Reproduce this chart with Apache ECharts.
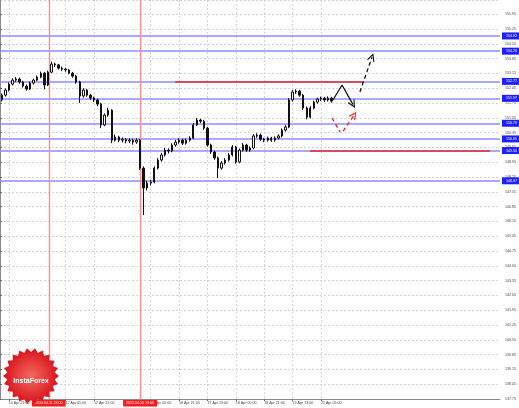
<!DOCTYPE html>
<html><head><meta charset="utf-8">
<script src="https://cdn.jsdelivr.net/npm/echarts@6/dist/echarts.min.js"></script>
<style>html,body{margin:0;padding:0;background:#fff}#c{width:519px;height:408px}</style>
</head><body><div id="c"></div>
<script>
// ---- data (price in GBP/JPY-like units, time in trading hours from 10 Apr 16:00) ----
const opens  = [151.90,152.12,152.36,152.64,152.83,152.88,152.74,152.55,152.41,152.69,152.83,152.97,153.16,152.60,153.21,153.59,153.55,153.40,153.35,153.31,153.16,153.02,152.74,152.08,152.36,152.12,151.98,151.89,151.70,150.71,151.18,151.41,149.99,150.14,149.99,150.04,149.95,149.99,149.90,149.99,148.67,147.73,147.96,148.01,148.67,149.05,149.29,149.52,149.48,149.76,149.90,149.99,149.85,149.99,150.09,150.71,150.94,150.89,150.56,149.76,149.43,149.15,148.67,148.91,149.05,149.29,149.67,148.96,149.52,149.76,149.52,149.62,150.19,150.23,150.04,149.99,150.09,149.99,150.09,150.19,150.47,150.61,151.89,152.27,152.31,152.12,151.51,151.08,151.51,151.79,151.93,151.98,151.89,151.98];
const closes = [152.12,152.36,152.64,152.83,152.88,152.74,152.55,152.41,152.69,152.83,152.97,153.16,152.60,153.21,153.59,153.55,153.40,153.35,153.31,153.16,153.02,152.74,152.08,152.36,152.12,151.98,151.89,151.70,150.71,151.18,151.41,149.99,150.14,149.99,150.04,149.95,149.99,149.90,149.99,148.67,147.73,147.96,148.01,148.67,149.05,149.29,149.52,149.48,149.76,149.90,149.99,149.85,149.99,150.09,150.71,150.94,150.89,150.56,149.76,149.43,149.15,148.67,148.91,149.05,149.29,149.67,148.96,149.52,149.76,149.52,149.62,150.19,150.23,150.04,149.99,150.09,149.99,150.09,150.19,150.47,150.61,151.89,152.27,152.31,152.12,151.51,151.08,151.51,151.79,151.93,151.98,151.89,151.98,151.84];
const lows   = [151.82,152.05,152.30,152.58,152.74,152.66,152.48,152.33,152.36,152.62,152.78,152.92,152.40,152.55,153.16,153.45,153.33,153.26,153.22,153.10,152.94,152.66,151.75,152.00,152.04,151.90,151.80,151.60,150.56,150.65,151.10,149.85,149.92,149.90,149.88,149.84,149.86,149.78,149.82,148.58,146.45,147.62,147.85,147.95,148.60,148.98,149.22,149.36,149.42,149.68,149.82,149.76,149.78,149.92,150.04,150.66,150.80,150.48,149.68,149.34,149.06,148.20,148.60,148.84,148.98,149.22,148.88,148.90,149.45,149.44,149.44,149.56,150.10,149.96,149.90,149.92,149.91,149.92,150.02,150.12,150.40,150.56,151.82,152.18,152.04,151.42,150.98,151.02,151.45,151.72,151.85,151.80,151.82,151.76];
const highs  = [152.20,152.44,152.72,152.92,152.98,152.95,152.80,152.62,152.76,152.90,153.05,153.24,153.22,153.28,153.70,153.66,153.60,153.47,153.42,153.36,153.22,153.08,152.80,152.45,152.42,152.18,152.05,151.95,151.76,151.26,151.52,151.45,150.26,150.20,150.12,150.10,150.08,150.06,150.08,150.05,148.75,148.08,148.12,148.75,149.14,149.38,149.62,149.60,149.84,150.00,150.08,150.06,150.08,150.18,150.80,151.04,151.00,150.95,150.62,149.82,149.50,149.22,149.00,149.14,149.38,149.76,149.72,149.60,149.85,149.82,149.70,150.28,150.32,150.30,150.10,150.16,150.15,150.17,150.27,150.55,150.70,151.98,152.36,152.40,152.38,152.18,151.58,151.60,151.86,152.00,152.05,152.04,152.06,152.04];
const candleHours = 2;          // each candle spans 2 trading hours
const xMin = 0, xMax = 282, yMin = 137.75, yMax = 156.62;
const blueLevels = [154.92, 154.20, 152.77, 151.97, 150.79, 150.05, 149.50, 148.07];
const timeTicks  = [5, 37, 53, 85, 101, 117, 133, 149, 165, 181];
const timeLabels = ['10 Apr 21:00','12 Apr 05:00','12 Apr 21:00','16 Apr 05:00','16 Apr 21:00','17 Apr 13:00','18 Apr 05:00','18 Apr 21:00','19 Apr 13:00','22 Apr 05:00'];
const vLineHours  = [27.5, 79];
const vLineLabels = ['2013.04.11 19:00', '2013.04.15 23:00'];
const resistance = [[98.7, 152.77], [204.7, 152.77]];
const support    = [[174.8, 149.50], [276.4, 149.50]];
const blackZigA  = [[187.8, 151.89], [192.9, 152.60]];
const blackZigB  = [[192.9, 152.60], [199.1, 151.68]];
const blackUp    = [[203.0, 152.27], [209.8, 153.92]];
const redDown    = [[187.3, 151.04], [191.8, 150.37]];
const redUp      = [[193.5, 150.42], [199.7, 151.18]];

const candles = opens.map((o, i) => [i * candleHours + 1, o, closes[i], lows[i], highs[i]]);
const chevron = 'path://M5,0 L10,10 L8.4,10 L5,3 L1.6,10 L0,10 Z';

const chart = echarts.init(document.getElementById('c'), null, {renderer: 'canvas'});
const fontFam = 'Liberation Sans, Arial, sans-serif';

function gear(cx, cy, r1, r2, n) {
  const pts = [];
  for (let i = 0; i < n * 2; i++) {
    const a = Math.PI * i / n;
    const r = i % 2 ? r2 : r1;
    pts.push([cx + r * Math.cos(a), cy + r * Math.sin(a)]);
  }
  return pts;
}

function seg(coords, color, dashed, arrow) {
  return {type: 'lines', coordinateSystem: 'cartesian2d', polyline: false, silent: true, z: 9,
    symbol: ['none', arrow ? chevron : 'none'], symbolSize: 8,
    lineStyle: {color: color, width: 1.3, type: dashed ? [4, 3] : 'solid', opacity: 1},
    data: [{coords: coords}]};
}

chart.setOption({
  animation: false,
  backgroundColor: '#fff',
  grid: [{left: 0, right: 19, top: 0, bottom: 9}],
  xAxis: [{
    type: 'value', min: xMin, max: xMax, interval: 12.41,
    axisLine: {show: true, lineStyle: {color: '#8a8a8a', width: 1}},
    axisTick: {show: true, customValues: timeTicks, length: 2, lineStyle: {color: '#666'}},
    axisLabel: {customValues: timeTicks, fontSize: 3.6, color: '#444', align: 'left', margin: 2, fontFamily: fontFam,
      formatter: v => { const i = timeTicks.indexOf(Math.round(v)); return i >= 0 ? timeLabels[i] : ''; }},
    splitLine: {show: true, lineStyle: {color: '#d4d4d4', type: [2, 2], width: 1}}
  }],
  yAxis: [{
    type: 'value', position: 'right', min: yMin, max: yMax, interval: 0.7,
    axisLine: {show: true, lineStyle: {color: '#8a8a8a', width: 1}},
    axisTick: {show: true, length: 2, lineStyle: {color: '#666'}},
    axisLabel: {fontSize: 3.6, color: '#444', margin: 5, fontFamily: fontFam, formatter: v => v.toFixed(2), showMaxLabel: false},
    splitLine: {show: true, lineStyle: {color: '#d4d4d4', type: [2, 2], width: 1}}
  }],
  series: [
    {
      type: 'line', name: 'levels', data: [], silent: true, z: 1,
      markLine: {
        silent: true, symbol: ['none', 'none'], animation: false, z: 1,
        lineStyle: {color: '#8c8cff', width: 1.6, type: 'solid', opacity: 1},
        label: {show: true, position: 'end', distance: 2, color: '#fff', backgroundColor: '#2020ff',
          fontSize: 3.6, padding: [1.6, 4, 1.4, 4], fontFamily: fontFam, formatter: p => p.value.toFixed(2)},
        data: blueLevels.map(v => ({yAxis: v}))
      }
    },
    {
      type: 'line', name: 'vlines', data: [], silent: true, z: 1,
      markLine: {
        silent: true, symbol: ['none', 'none'], animation: false, z: 1,
        lineStyle: {color: '#ff8c8c', width: 1.4, type: 'solid', opacity: 1},
        label: {show: true, position: 'start', distance: 1, color: '#fff', backgroundColor: '#ff1a1a',
          fontSize: 3.6, padding: [1.4, 3, 1.2, 3], fontFamily: fontFam,
          formatter: p => vLineLabels[vLineHours.indexOf(p.value)]},
        data: vLineHours.map(h => ({xAxis: h}))
      }
    },
    {
      type: 'candlestick', name: 'price', barWidth: 1.9,
      encode: {x: 0, y: [1, 2, 3, 4]},
      data: candles,
      itemStyle: {color: '#ffffff', color0: '#111', borderColor: '#111', borderColor0: '#111', borderWidth: 1},
      z: 5
    },
    {type: 'lines', coordinateSystem: 'cartesian2d', polyline: false, silent: true, z: 8,
      lineStyle: {color: '#e62e2e', width: 1.6, opacity: 1},
      data: [{coords: resistance}, {coords: support}]},
    seg(blackZigA, '#111', false, false),
    seg(blackZigB, '#111', false, true),
    seg(blackUp, '#111', true, true),
    seg(redDown, '#ee2222', true, false),
    seg(redUp, '#ee2222', true, true)
  ],
  graphic: [
    {type: 'polygon', shape: {points: gear(31, 376, 28, 24, 22)}, z: 10,
      style: {fill: new echarts.graphic.RadialGradient(0.5, 0.5, 0.5, [{offset: 0, color: '#f46a60'}, {offset: 1, color: '#d8121b'}])}},
    {type: 'text', x: 31, y: 381, z: 11, style: {text: 'InstaForex', fill: '#fff', font: 'bold 7px ' + fontFam, textAlign: 'center', textVerticalAlign: 'middle'}}
  ]
});
</script></body></html>
